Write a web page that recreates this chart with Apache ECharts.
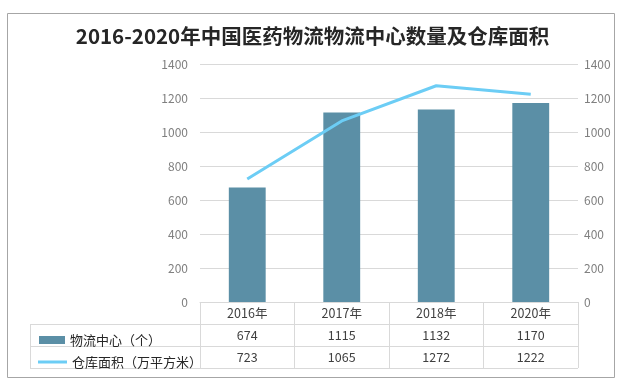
<!DOCTYPE html>
<html>
<head>
<meta charset="utf-8">
<script src="https://cdn.jsdelivr.net/npm/echarts@6/dist/echarts.min.js"></script>
<style>html,body{margin:0;padding:0;background:#fff}#c{width:625px;height:386px}</style>
</head>
<body>
<div id="c"></div>
<script>
var categories = ['2016年', '2017年', '2018年', '2020年'];
var centers = [674, 1115, 1132, 1170];
var areas = [723, 1065, 1272, 1222];
var seriesNames = ['物流中心（个）', '仓库面积（万平方米）'];
var titleText = '2016-2020年中国医药物流物流中心数量及仓库面积';

var W = 625, H = 386;
var G = {left: 200, right: 47, top: 64, bottom: 84};
var rowH = 22;
var tableLeft = 30;
var plotRight = W - G.right;
var axisY = H - G.bottom;
var font = '"Noto Sans CJK SC", "Microsoft YaHei", sans-serif';
var gridColor = '#d9d9d9';
var barColor = '#5B8FA6';
var lineColor = '#6CCDF5';

var chart = echarts.init(document.getElementById('c'), null, {renderer: 'canvas'});
var graphics = [
  {type: 'rect', shape: {x: 7.5, y: 13.5, width: 607, height: 364}, style: {fill: 'none', stroke: '#a6a6a6', lineWidth: 1}, silent: true}
];
for (var r = 1; r <= 3; r++) {
  graphics.push({type: 'line', shape: {x1: tableLeft, y1: axisY + r * rowH + 0.5, x2: plotRight, y2: axisY + r * rowH + 0.5}, style: {stroke: gridColor, lineWidth: 1}, silent: true});
}
graphics.push({type: 'line', shape: {x1: tableLeft + 0.5, y1: axisY + rowH, x2: tableLeft + 0.5, y2: axisY + 3 * rowH}, style: {stroke: gridColor, lineWidth: 1}, silent: true});

var legendText = {fontSize: 13, color: '#262626', lineHeight: 14, fontFamily: font};
chart.setOption({
  animation: false,
  textStyle: {fontFamily: font},
  title: {
    text: titleText, left: 'center', top: 21,
    textStyle: {fontSize: 20.5, fontWeight: 'bold', color: '#262626', fontFamily: font}
  },
  legend: [
    {left: 34, top: axisY + rowH + 4, itemWidth: 26, itemHeight: 8, itemGap: 6,
     textStyle: legendText, data: [{name: seriesNames[0], icon: 'rect'}]},
    {left: 33, top: axisY + 2 * rowH + 4, itemWidth: 29, itemHeight: 3, itemGap: 6,
     textStyle: legendText, data: [{name: seriesNames[1], icon: 'rect'}]}
  ],
  grid: {left: G.left, right: G.right, top: G.top, bottom: G.bottom, containLabel: false},
  xAxis: {
    type: 'category', data: categories, boundaryGap: true,
    axisLine: {show: true, lineStyle: {color: gridColor}},
    axisTick: {show: true, interval: 0, length: 3 * rowH, lineStyle: {color: gridColor}},
    axisLabel: {
      interval: 0, margin: 0,
      formatter: function (v, i) {
        return '{a|' + v + '}\n{a|' + centers[i] + '}\n{a|' + areas[i] + '}';
      },
      rich: {a: {fontSize: 12.5, lineHeight: rowH, color: '#404040', fontFamily: font}}
    }
  },
  yAxis: [
    {type: 'value', min: 0, max: 1400, interval: 200,
     axisLine: {show: false}, axisTick: {show: false},
     axisLabel: {margin: 12, color: '#7f7f7f', fontSize: 12, fontFamily: font, formatter: function (v) { return String(v); }},
     splitLine: {lineStyle: {color: gridColor}}},
    {type: 'value', min: 0, max: 1400, interval: 200,
     axisLine: {show: false}, axisTick: {show: false},
     axisLabel: {margin: 6, color: '#7f7f7f', fontSize: 12, fontFamily: font, formatter: function (v) { return String(v); }},
     splitLine: {show: false}}
  ],
  series: [
    {name: seriesNames[0], type: 'bar', data: centers, barWidth: '39%', itemStyle: {color: barColor}},
    {name: seriesNames[1], type: 'line', yAxisIndex: 1, data: areas, symbol: 'none', showSymbol: false,
     lineStyle: {color: lineColor, width: 3}, itemStyle: {color: lineColor}}
  ],
  graphic: graphics
});
</script>
</body>
</html>
